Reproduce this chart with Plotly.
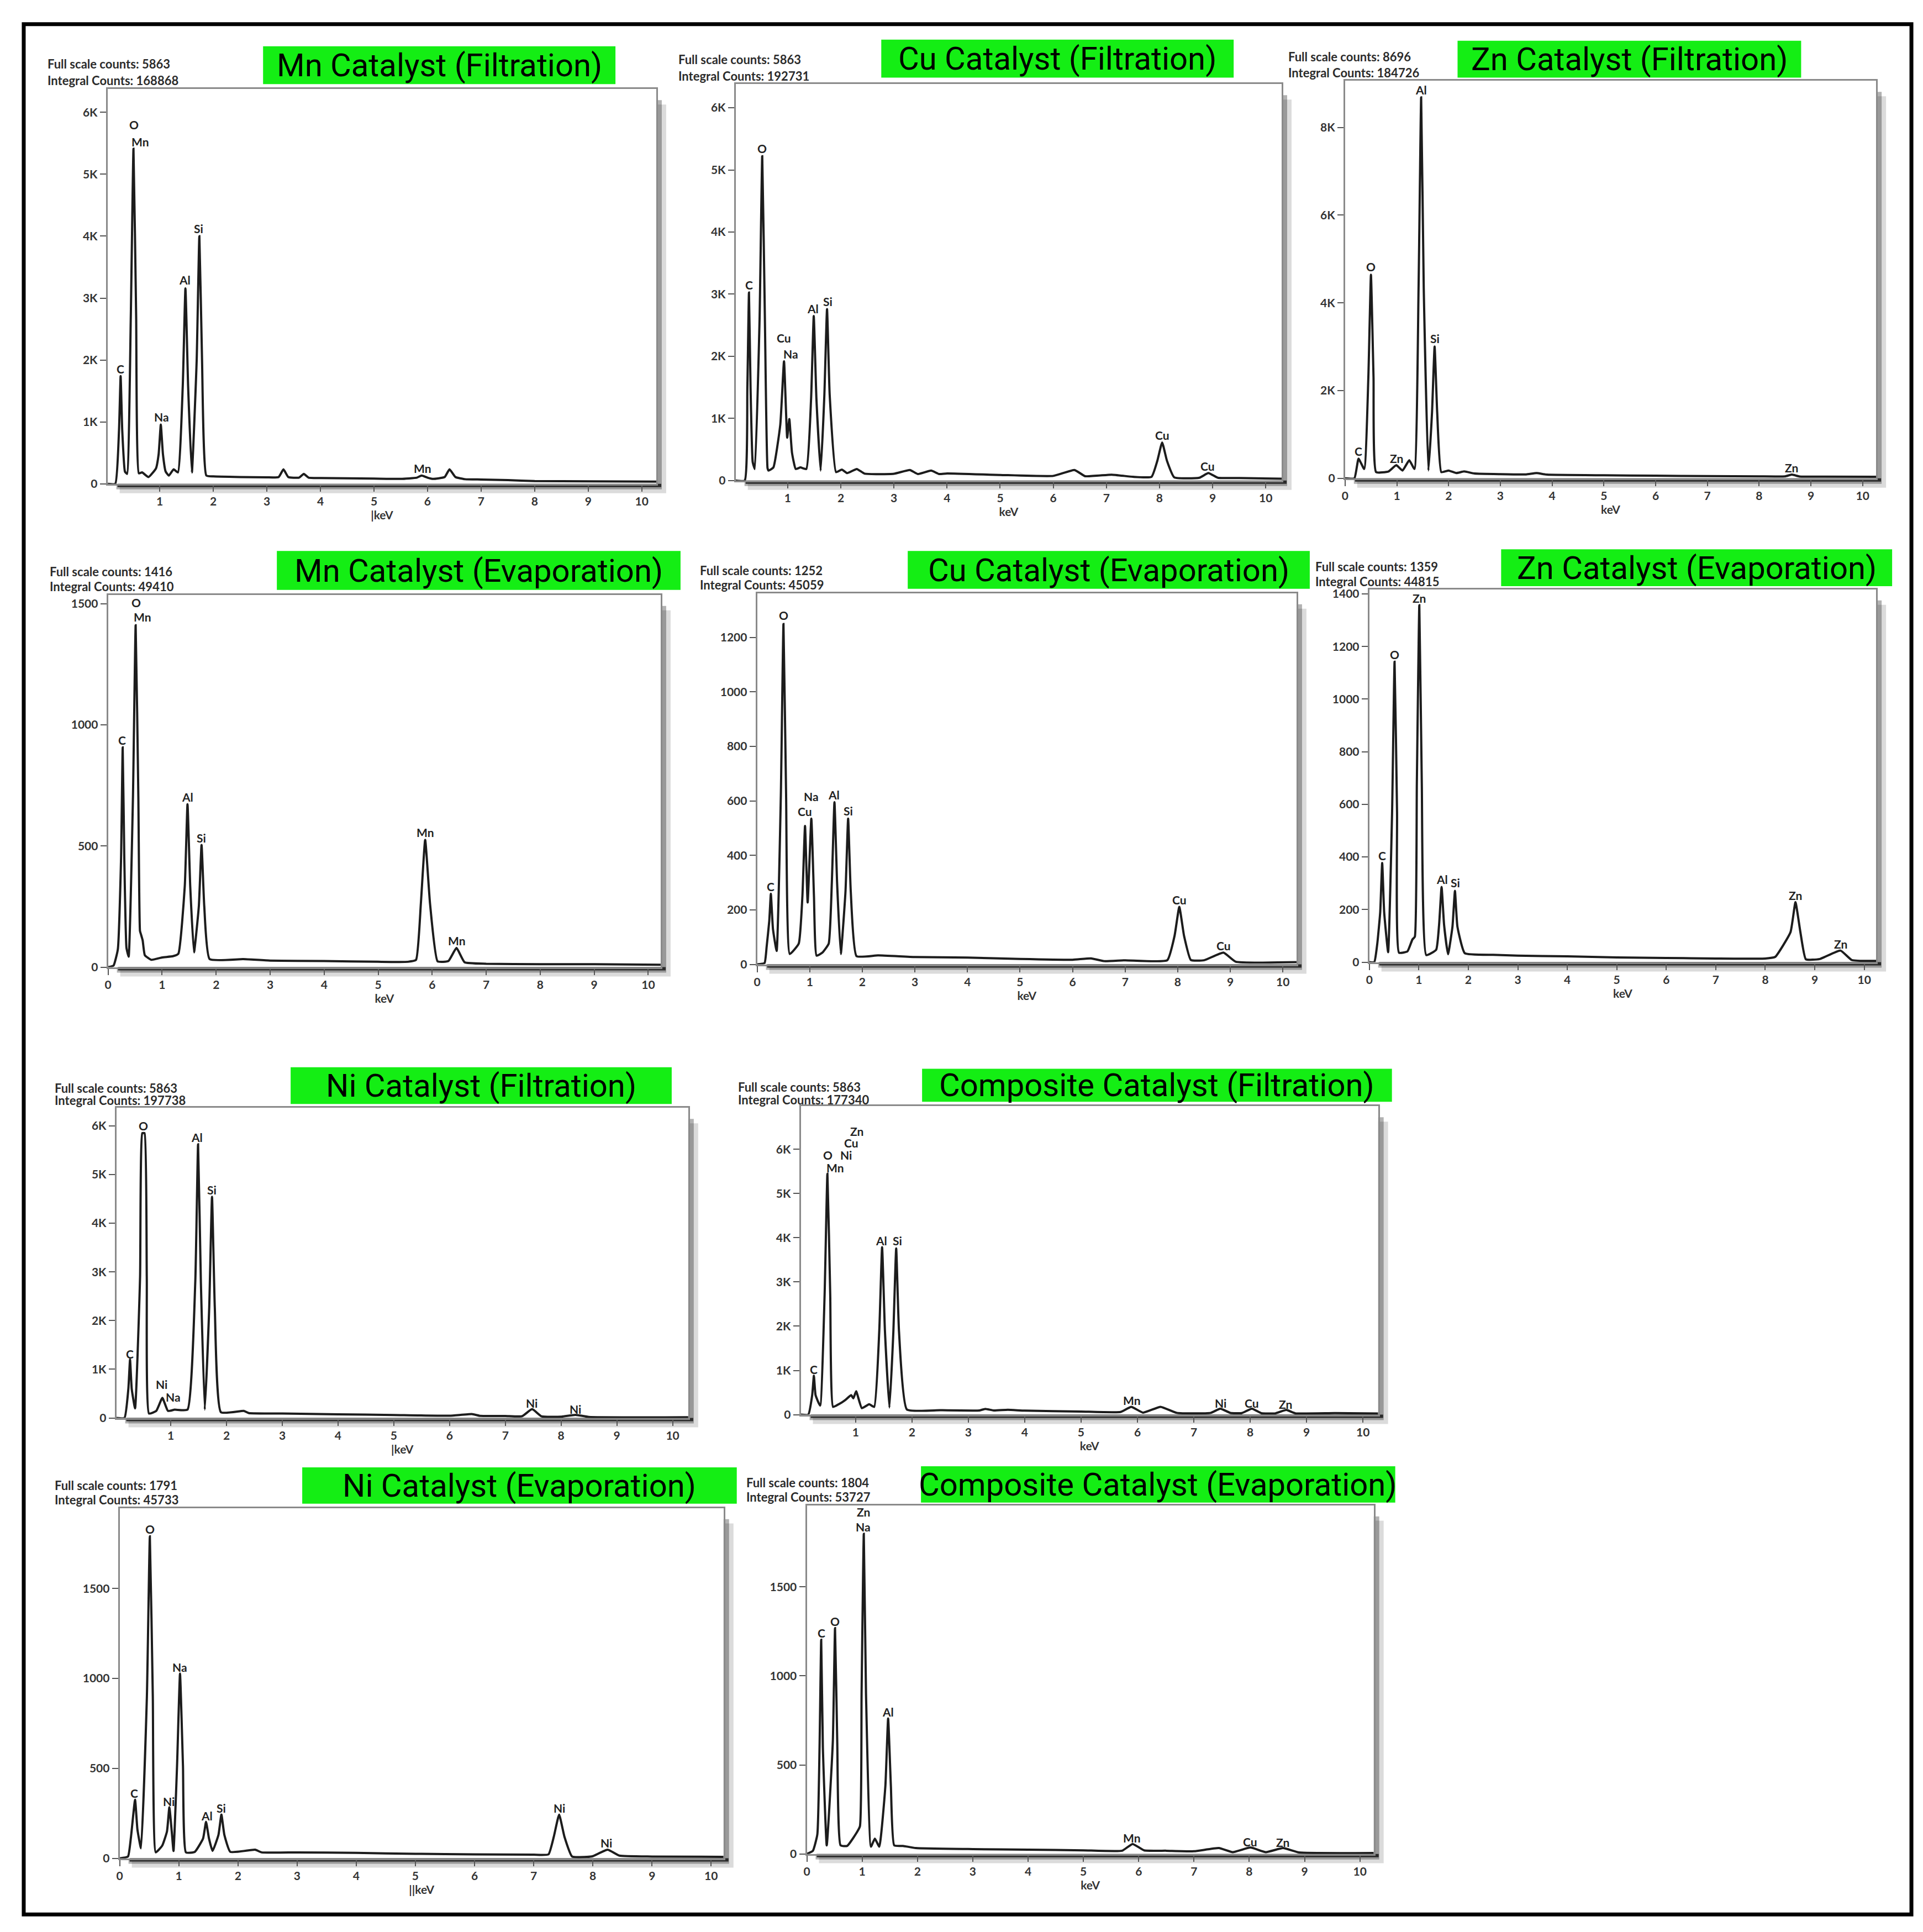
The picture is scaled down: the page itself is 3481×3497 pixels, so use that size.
import plotly.graph_objects as go

W, H = 3481, 3497

# ---------------- spectra: (keV, counts) vertices ----------------
MN_FILT = [(0.03,0),(0.17,0),(0.24,870),(0.27,1740),(0.30,870),(0.35,200),(0.39,160),(0.46,2700),(0.51,5410),(0.56,2700),
           (0.61,170),(0.67,185),(0.79,110),(0.93,250),(0.98,480),(1.02,956),(1.06,480),(1.11,200),(1.17,134),(1.26,234),
           (1.34,184),(1.43,1580),(1.48,3157),(1.53,1580),(1.60,184),(1.69,2000),(1.74,4000),(1.79,2000),(1.87,134),(2.00,120),
           (2.50,110),(3.00,105),(3.22,110),(3.31,234),(3.40,110),(3.60,100),(3.69,160),(3.78,100),(4.00,95),(4.50,90),
           (5.00,85),(5.50,80),(5.80,100),(5.89,134),(6.00,100),(6.10,80),(6.32,110),(6.41,234),(6.52,110),(6.70,75),
           (7.00,70),(7.50,60),(8.00,45),(9.00,40),(10.27,35)]
CU_FILT = [(0.02,0),(0.19,0),(0.24,1500),(0.27,3025),(0.30,1500),(0.34,300),(0.38,186),(0.47,2600),(0.52,5221),(0.57,2600),
           (0.62,200),(0.64,160),(0.73,211),(0.86,900),(0.93,1920),(0.99,690),(1.03,990),(1.08,450),(1.15,186),(1.24,211),
           (1.35,186),(1.44,1320),(1.49,2648),(1.54,1320),(1.62,160),(1.69,1380),(1.74,2759),(1.79,1380),(1.91,136),(2.02,176),
           (2.12,120),(2.30,186),(2.45,110),(3.00,110),(3.30,170),(3.45,105),(3.70,160),(3.85,105),(4.00,115),(5.00,90),
           (6.00,75),(6.40,170),(6.60,70),(7.10,95),(7.50,60),(7.85,60),(7.96,320),(8.05,613),(8.14,320),(8.28,50),
           (8.75,45),(8.92,120),(9.10,45),(9.50,40),(10.30,30)]
ZN_FILT = [(0.00,0),(0.18,0),(0.26,448),(0.37,214),(0.45,2300),(0.50,4641),(0.55,2300),(0.60,142),(0.84,157),(0.99,299),
           (1.11,178),(1.24,413),(1.34,214),(1.42,4340),(1.47,8683),(1.52,4340),(1.61,178),(1.68,1500),(1.73,3004),(1.78,1500),
           (1.86,142),(2.00,178),(2.15,120),(2.30,157),(2.50,110),(3.00,95),(3.50,90),(3.70,120),(3.90,85),(5.00,70),
           (6.00,60),(7.00,50),(8.00,45),(8.50,45),(8.63,85),(8.78,42),(9.00,40),(10.26,35)]
MN_EVAP = [(0.00,0),(0.10,6),(0.18,73),(0.24,450),(0.27,907),(0.30,450),(0.34,80),(0.38,43),(0.46,700),(0.51,1411),
           (0.56,700),(0.59,150),(0.61,134),(0.64,110),(0.68,49),(0.80,30),(1.00,40),(1.20,45),(1.30,55),(1.42,336),
           (1.47,672),(1.52,336),(1.59,61),(1.68,252),(1.73,504),(1.78,252),(1.88,33),(2.50,33),(3.00,27),(4.00,25),
           (5.00,22),(5.55,22),(5.70,30),(5.79,262),(5.87,525),(5.96,262),(6.10,24),(6.30,25),(6.45,79),(6.60,20),
           (7.00,14),(8.00,12),(9.00,12),(10.23,10)]
CU_EVAP = [(0.00,0),(0.14,5),(0.18,65),(0.23,160),(0.26,259),(0.30,130),(0.37,49),(0.45,620),(0.50,1249),(0.55,620),
           (0.62,38),(0.79,76),(0.86,250),(0.91,508),(0.96,227),(1.03,535),(1.08,250),(1.13,32),(1.24,43),(1.36,76),
           (1.42,300),(1.47,595),(1.52,300),(1.59,38),(1.68,268),(1.73,535),(1.78,268),(1.89,30),(2.30,33),(3.00,27),
           (4.00,25),(5.00,20),(6.00,17),(6.35,22),(6.60,12),(7.00,15),(7.80,15),(7.94,105),(8.03,211),(8.12,105),
           (8.25,16),(8.50,15),(8.87,43),(9.10,10),(10.26,8)]
ZN_EVAP = [(0.00,0),(0.10,0),(0.16,69),(0.22,190),(0.26,377),(0.30,190),(0.38,38),(0.46,570),(0.51,1142),(0.56,570),
           (0.60,36),(0.77,41),(0.87,86),(0.92,97),(0.96,680),(1.01,1357),(1.06,680),(1.15,27),(1.35,47),(1.41,143),
           (1.46,286),(1.51,143),(1.59,30),(1.68,135),(1.73,271),(1.78,135),(1.93,34),(2.50,28),(3.00,25),(4.00,22),
           (5.00,18),(6.00,16),(7.00,14),(8.00,14),(8.20,20),(8.51,114),(8.61,228),(8.71,114),(8.82,11),(9.10,12),
           (9.52,44),(9.75,8),(10.24,5)]
NI_FILT = [(0.02,0),(0.17,0),(0.24,600),(0.27,1200),(0.30,600),(0.36,197),(0.45,2900),(0.49,5851),(0.53,5851),(0.57,2900),
           (0.61,91),(0.74,144),(0.85,411),(0.95,144),(1.07,170),(1.30,170),(1.44,2800),(1.49,5621),(1.54,2800),(1.61,170),
           (1.69,2270),(1.74,4544),(1.79,2270),(1.90,117),(2.31,144),(2.40,100),(3.00,90),(4.00,75),(5.00,60),(6.00,45),
           (6.40,80),(6.55,42),(7.00,40),(7.30,35),(7.48,181),(7.65,32),(8.00,25),(8.26,64),(8.50,20),(10.28,15)]
COMP_FILT = [(0.03,0),(0.16,0),(0.23,440),(0.26,881),(0.29,440),(0.37,205),(0.45,2700),(0.50,5448),(0.55,2700),(0.60,176),
             (0.70,235),(0.81,323),(0.92,440),(0.96,370),(1.01,528),(1.11,147),(1.24,235),(1.33,176),(1.42,1900),(1.47,3787),
             (1.52,1900),(1.60,159),(1.67,1880),(1.72,3757),(1.77,1880),(1.91,117),(2.50,100),(3.20,95),(3.30,130),(3.45,95),
             (3.70,110),(4.00,90),(5.00,70),(5.70,60),(5.89,176),(6.10,45),(6.41,176),(6.70,40),(7.30,40),(7.47,135),
             (7.65,38),(7.85,35),(8.03,135),(8.20,32),(8.45,30),(8.64,106),(8.80,30),(9.50,35),(10.27,25)]
NI_EVAP = [(0.00,0),(0.14,10),(0.19,116),(0.26,326),(0.30,160),(0.36,56),(0.46,900),(0.51,1790),(0.56,900),(0.61,33),
           (0.72,71),(0.80,150),(0.84,284),(0.88,150),(0.91,41),(0.97,515),(1.02,1027),(1.07,515),(1.12,33),(1.27,36),
           (1.41,110),(1.46,203),(1.51,110),(1.57,41),(1.67,130),(1.72,243),(1.77,130),(1.87,36),(2.29,48),(2.40,33),
           (3.00,33),(4.00,30),(5.00,25),(6.00,22),(7.00,20),(7.25,22),(7.34,120),(7.43,243),(7.52,120),(7.65,10),
           (7.90,8),(8.00,12),(8.25,48),(8.45,15),(9.00,10),(10.21,8)]
COMP_EVAP = [(0.00,0),(0.11,18),(0.19,109),(0.23,600),(0.26,1203),(0.29,600),(0.36,48),(0.47,630),(0.51,1268),(0.55,630),
             (0.61,48),(0.73,45),(0.88,109),(0.96,155),(0.99,900),(1.03,1798),(1.07,900),(1.16,41),(1.23,86),(1.31,41),
             (1.42,380),(1.47,761),(1.52,380),(1.58,48),(1.74,45),(1.97,33),(3.00,27),(4.00,24),(5.00,20),(5.70,18),
             (5.89,56),(6.10,20),(6.50,18),(7.00,15),(7.45,33),(7.70,10),(8.02,36),(8.30,10),(8.61,33),(8.90,8),(10.25,5)]

# ---------------- peak labels: (keV, counts, element) ----------------
MN_FILT_LBL = [(0.52,5803,"O"),(0.64,5528,"Mn"),(0.27,1862,"C"),(1.03,1080,"Na"),(1.47,3290,"Al"),(1.73,4128,"Si"),(5.91,249,"Mn")]
CU_FILT_LBL = [(0.27,3150,"C"),(0.52,5351,"O"),(0.93,2296,"Cu"),(1.06,2035,"Na"),(1.47,2769,"Al"),(1.75,2884,"Si"),(8.05,729,"Cu"),(8.91,236,"Cu")]
ZN_FILT_LBL = [(1.47,8861,"Al"),(0.50,4826,"O"),(1.74,3189,"Si"),(0.26,626,"C"),(0.99,455,"Zn"),(8.63,249,"Zn")]
MN_EVAP_LBL = [(0.52,1504,"O"),(0.64,1445,"Mn"),(0.26,938,"C"),(1.47,702,"Al"),(1.73,534,"Si"),(5.87,556,"Mn"),(6.46,109,"Mn")]
CU_EVAP_LBL = [(0.50,1281,"O"),(0.26,286,"C"),(0.91,562,"Cu"),(1.03,616,"Na"),(1.46,622,"Al"),(1.73,564,"Si"),(8.03,238,"Cu"),(8.87,70,"Cu")]
ZN_EVAP_LBL = [(1.01,1385,"Zn"),(0.51,1170,"O"),(0.26,405,"C"),(1.47,316,"Al"),(1.74,302,"Si"),(8.61,254,"Zn"),(9.52,69,"Zn")]
NI_FILT_LBL = [(0.51,6000,"O"),(1.47,5771,"Al"),(1.74,4688,"Si"),(0.27,1317,"C"),(0.84,688,"Ni"),(1.04,427,"Na"),(7.47,304,"Ni"),(8.26,187,"Ni")]
COMP_FILT_LBL = [(1.02,6411,"Zn"),(0.92,6147,"Cu"),(0.51,5871,"O"),(0.83,5871,"Ni"),(0.64,5589,"Mn"),(1.46,3934,"Al"),(1.74,3934,"Si"),
                 (0.26,1027,"C"),(5.90,323,"Mn"),(7.47,264,"Ni"),(8.03,264,"Cu"),(8.63,235,"Zn")]
NI_EVAP_LBL = [(0.51,1830,"O"),(1.02,1062,"Na"),(0.25,363,"C"),(0.83,318,"Ni"),(1.47,236,"Al"),(1.72,281,"Si"),(7.43,281,"Ni"),(8.23,86,"Ni")]
COMP_EVAP_LBL = [(1.02,1920,"Zn"),(1.02,1839,"Na"),(0.26,1242,"C"),(0.51,1306,"O"),(1.47,798,"Al"),(5.88,89,"Mn"),(8.02,68,"Cu"),(8.60,67,"Zn")]

TITLES = ["Mn Catalyst (Filtration)", "Cu Catalyst (Filtration)", "Zn Catalyst (Filtration)",
          "Mn Catalyst (Evaporation)", "Cu Catalyst (Evaporation)", "Zn Catalyst (Evaporation)",
          "Ni Catalyst (Filtration)", "Composite Catalyst (Filtration)",
          "Ni Catalyst (Evaporation)", "Composite Catalyst (Evaporation)"]
FULL_SCALE = [5863, 5863, 8696, 1416, 1252, 1359, 5863, 5863, 1791, 1804]
INTEGRAL = [168868, 192731, 184726, 49410, 45059, 44815, 197738, 177340, 45733, 53727]

# tick labels
Y_K6 = ([0, 1000, 2000, 3000, 4000, 5000, 6000], ["0", "1K", "2K", "3K", "4K", "5K", "6K"])
Y_K8 = ([0, 2000, 4000, 6000, 8000], ["0", "2K", "4K", "6K", "8K"])
Y_1500 = ([0, 500, 1000, 1500], ["0", "500", "1000", "1500"])
Y_1200 = ([0, 200, 400, 600, 800, 1000, 1200], ["0", "200", "400", "600", "800", "1000", "1200"])
Y_1400 = ([0, 200, 400, 600, 800, 1000, 1200, 1400], ["0", "200", "400", "600", "800", "1000", "1200", "1400"])
X_1_10 = [1, 2, 3, 4, 5, 6, 7, 8, 9, 10]
X_0_10 = [0, 1, 2, 3, 4, 5, 6, 7, 8, 9, 10]

SPECTRA = [MN_FILT, CU_FILT, ZN_FILT, MN_EVAP, CU_EVAP, ZN_EVAP, NI_FILT, COMP_FILT, NI_EVAP, COMP_EVAP]
LABELS = [MN_FILT_LBL, CU_FILT_LBL, ZN_FILT_LBL, MN_EVAP_LBL, CU_EVAP_LBL, ZN_EVAP_LBL,
          NI_FILT_LBL, COMP_FILT_LBL, NI_EVAP_LBL, COMP_EVAP_LBL]

# ---------------- layout geometry (pixels) ----------------
# box: (left, right, top, bottom) ; green: (left, right, top, bottom) ; head: (x, y1, y2)
GEOM = [
    dict(box=(181, 1176, 148, 866), xr=(0.026, 10.27), ytop=6374, yt=Y_K6, xt=X_1_10, green=(463, 1102, 70, 139), head=(70, 102, 132), xtitle="|keV"),
    dict(box=(1320, 2310, 139, 860), xr=(0.02, 10.30), ytop=6380, yt=Y_K6, xt=X_1_10, green=(1584, 2223, 58, 127), head=(1214, 94, 124), xtitle="keV"),
    dict(box=(2425, 3388, 133, 856), xr=(0.0, 10.26), ytop=9060, yt=Y_K8, xt=X_0_10, green=(2629, 3252, 60, 127), head=(2320, 89, 118), xtitle="keV"),
    dict(box=(182, 1184, 1068, 1745), xr=(0.0, 10.23), ytop=1536, yt=Y_1500, xt=X_0_10, green=(488, 1220, 988, 1059), head=(74, 1025, 1053), xtitle="keV"),
    dict(box=(1359, 2337, 1065, 1740), xr=(0.0, 10.26), ytop=1362, yt=Y_1200, xt=X_0_10, green=(1632, 2361, 988, 1057), head=(1253, 1023, 1050), xtitle="keV"),
    dict(box=(2469, 3388, 1058, 1736), xr=(0.0, 10.24), ytop=1417, yt=Y_1400, xt=X_0_10, green=(2708, 3417, 985, 1052), head=(2369, 1016, 1044), xtitle="keV"),
    dict(box=(197, 1234, 2001, 2565), xr=(0.025, 10.28), ytop=6370, yt=Y_K6, xt=X_1_10, green=(513, 1204, 1927, 1994), head=(83, 1965, 1987), xtitle="|keV"),
    dict(box=(1438, 2485, 1998, 2559), xr=(0.027, 10.27), ytop=6974, yt=Y_K6, xt=X_1_10, green=(1658, 2510, 1930, 1990), head=(1322, 1963, 1986), xtitle="keV"),
    dict(box=(203, 1298, 2729, 3366), xr=(0.0, 10.21), ytop=1947, yt=Y_1500, xt=X_0_10, green=(534, 1322, 2655, 2721), head=(83, 2688, 2714), xtitle="||keV"),
    dict(box=(1449, 2477, 2724, 3358), xr=(0.0, 10.25), ytop=1958, yt=Y_1500, xt=X_0_10, green=(1656, 2516, 2653, 2719), head=(1337, 2683, 2709), xtitle="keV"),
]

def px(x):
    return x / W

def py(y):
    return 1 - y / H

TICK_FONT = dict(family="Lato, 'Open Sans', sans-serif", size=21, color="#333333", weight="bold")
LABEL_FONT = dict(family="Lato, 'Open Sans', sans-serif", size=21, color="#222222", weight="bold")
HEAD_FONT = dict(family="Lato, 'Open Sans', sans-serif", size=22, color="#2b2b2b", weight="bold")
TITLE_FONT = dict(family="Roboto, sans-serif", size=58, color="#000000")
LINE_COLOR = "#1c1c1c"
GREEN = "#14EE14"

fig = go.Figure()
shapes = []
annotations = []
layout = {}

for i, (spec, lbls, g) in enumerate(zip(SPECTRA, LABELS, GEOM)):
    n = i + 1
    xa = "x" if n == 1 else f"x{n}"
    ya = "y" if n == 1 else f"y{n}"
    xkey = "xaxis" if n == 1 else f"xaxis{n}"
    ykey = "yaxis" if n == 1 else f"yaxis{n}"
    L, R, T, B = g["box"]

    fig.add_trace(go.Scatter(
        x=[p[0] for p in spec], y=[p[1] for p in spec], mode="lines",
        line=dict(color=LINE_COLOR, width=4, shape="spline", smoothing=0.4),
        xaxis=xa, yaxis=ya, hoverinfo="skip", showlegend=False))

    layout[xkey] = dict(
        domain=[px(L), px(R)], range=list(g["xr"]), anchor=ya,
        showgrid=False, zeroline=False, showline=True, mirror=True,
        linecolor="#8a8a8a", linewidth=3,
        ticks="outside", ticklen=11, tickwidth=2, tickcolor="#555555",
        tickvals=g["xt"], ticktext=[str(v) for v in g["xt"]], tickfont=TICK_FONT,
        title=dict(text=g["xtitle"], font=TICK_FONT, standoff=4))
    layout[ykey] = dict(
        domain=[py(B), py(T)], range=[0, g["ytop"]], anchor=xa,
        showgrid=False, zeroline=False, showline=True, mirror=True,
        linecolor="#8a8a8a", linewidth=3,
        ticks="outside", ticklen=11, tickwidth=2, tickcolor="#555555",
        tickvals=g["yt"][0], ticktext=g["yt"][1], tickfont=TICK_FONT)

    # drop shadow + white plot box
    shapes.append(dict(type="rect", xref="paper", yref="paper", layer="below",
                       x0=px(L + 22), x1=px(R + 18), y0=py(B + 17), y1=py(T + 28),
                       fillcolor="rgba(0,0,0,0.14)", line=dict(width=0)))
    shapes.append(dict(type="rect", xref="paper", yref="paper", layer="below",
                       x0=px(L + 16), x1=px(R + 10), y0=py(B + 10), y1=py(T + 20),
                       fillcolor="rgba(0,0,0,0.30)", line=dict(width=0)))
    shapes.append(dict(type="rect", xref="paper", yref="paper", layer="below",
                       x0=px(L), x1=px(R), y0=py(B), y1=py(T),
                       fillcolor="white", line=dict(width=0)))
    shapes.append(dict(type="line", xref="paper", yref="paper", layer="below",
                       x0=px(L + 18), x1=px(R + 9), y0=py(B + 3), y1=py(B + 3),
                       line=dict(color="#2a2a2a", width=6)))

    # green title box
    gl, gr, gt, gb = g["green"]
    shapes.append(dict(type="rect", xref="paper", yref="paper", layer="below",
                       x0=px(gl), x1=px(gr), y0=py(gb), y1=py(gt),
                       fillcolor=GREEN, line=dict(width=0)))
    annotations.append(dict(xref="paper", yref="paper", x=px((gl + gr) / 2), y=py((gt + gb) / 2),
                            text=TITLES[i], showarrow=False, xanchor="center", yanchor="middle",
                            font=TITLE_FONT))

    # header text
    hx, hy1, hy2 = g["head"]
    annotations.append(dict(xref="paper", yref="paper", x=px(hx), y=py(hy1),
                            text=f"Full scale counts: {FULL_SCALE[i]}", showarrow=False,
                            xanchor="left", yanchor="middle", font=HEAD_FONT))
    annotations.append(dict(xref="paper", yref="paper", x=px(hx), y=py(hy2),
                            text=f"Integral Counts: {INTEGRAL[i]}", showarrow=False,
                            xanchor="left", yanchor="middle", font=HEAD_FONT))

    # peak labels
    for kev, cnt, el in lbls:
        annotations.append(dict(xref=xa, yref=ya, x=kev, y=cnt, text=el, showarrow=False,
                                xanchor="center", yanchor="middle", font=LABEL_FONT))

# outer black frame
shapes.append(dict(type="rect", xref="paper", yref="paper", layer="above",
                   x0=px(29), x1=px(3452), y0=py(3468), y1=py(30),
                   line=dict(color="#000000", width=7), fillcolor="rgba(0,0,0,0)"))

fig.update_layout(
    width=W, height=H, margin=dict(l=0, r=0, t=0, b=0),
    paper_bgcolor="white", plot_bgcolor="rgba(0,0,0,0)",
    showlegend=False, shapes=shapes, annotations=annotations,
    **layout)

fig.write_html("out.html")
